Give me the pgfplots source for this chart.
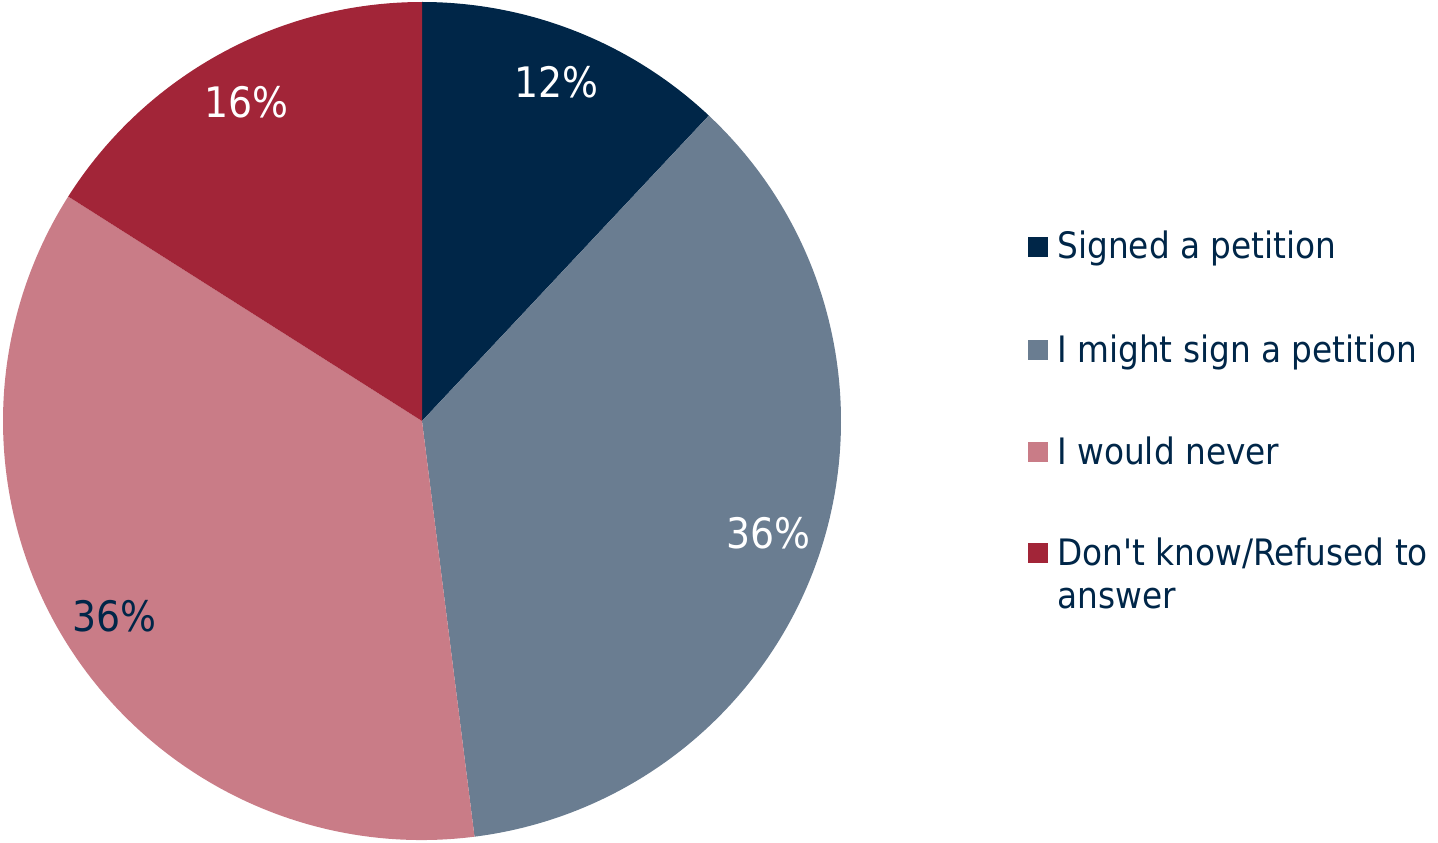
\documentclass[border=0pt]{standalone}
\usepackage{pgfplots}
\pgfplotsset{compat=1.18}
\usepackage{fontspec}
\setmainfont{DejaVu Sans Condensed}
\usetikzlibrary{calc}

\definecolor{cnavy}{RGB}{0,38,72}
\definecolor{cgray}{RGB}{106,125,145}
\definecolor{cpink}{RGB}{201,124,135}
\definecolor{cred}{RGB}{162,37,56}

% slice: start %, end %, fill colour, label colour
\newcommand\slice[4]{%
  \fill[#3] (axis cs:0,0) -- ++({90-3.6*#1}:209.5pt)
    arc[start angle={90-3.6*#1}, end angle={90-3.6*#2}, radius=209.5pt] -- cycle;
  \node[text=#4, font=\fontsize{21}{25}\selectfont]
    at ($(axis cs:0,0)+({90-1.8*(#1+#2)}:182pt)$) {\pgfmathparse{int(#2-#1)}\pgfmathresult\%};
}

\begin{document}
\begin{tikzpicture}
\path[use as bounding box] (0,0) rectangle (719pt,421pt);
\begin{axis}[
  at={(211pt,210.5pt)}, anchor=center,
  scale only axis, width=419pt, height=419pt,
  xmin=-1, xmax=1, ymin=-1, ymax=1,
  hide axis, clip=false,
]
\slice{0}{12}{cnavy}{white}
\slice{12}{48}{cgray}{white}
\slice{48}{84}{cpink}{cnavy}
\slice{84}{100}{cred}{white}
\end{axis}

\begin{scope}[font=\fontsize{18.2}{21.5}\selectfont, text=cnavy]
  \foreach \c/\yy/\t in {cnavy/247/{Signed a petition},
                         cgray/350/{I might sign a petition},
                         cpink/452/{I would never},
                         cred/553/{Don\textquotesingle t know/Refused to}} {
    \fill[\c] (514pt,{421pt-0.5pt*\yy+5pt}) rectangle ++(10pt,-10pt);
    \node[anchor=base west, inner sep=0pt] at (528.5pt,{421pt-0.5pt*(\yy+12)}) {\t};
  }
  \node[anchor=base west, inner sep=0pt] at (528.5pt,{421pt-0.5pt*608}) {answer};
\end{scope}
\end{tikzpicture}
\end{document}
